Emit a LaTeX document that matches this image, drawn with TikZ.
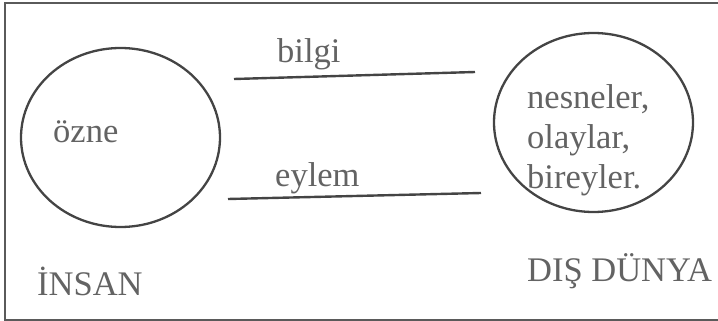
\documentclass[tikz,border=0pt]{standalone}
\usepackage{fontspec}
\setmainfont{Liberation Serif}
\usetikzlibrary{shapes.geometric}
\definecolor{txt}{HTML}{636363}
\definecolor{ln}{HTML}{444444}
\definecolor{frm}{HTML}{5A5A5A}
\begin{document}
\begin{tikzpicture}[x=1pt,y=-1pt,
  lbl/.style={anchor=base west,inner sep=0pt,text=txt,font=\fontsize{34.5}{40}\selectfont},
  oval/.style={draw=ln,line width=2.3pt,ellipse,inner sep=0pt,minimum width=199pt,minimum height=179pt},
  link/.style={draw=ln,line width=2.4pt}]
\useasboundingbox (0,0) rectangle (718,321);
\draw[frm,line width=1.6pt] (5,3) rectangle (724,320);
\node[oval] (insan) at (120.5,137.5) {};
\node[oval] (dunya) at (593.5,122.5) {};
\coordinate (b1) at (234,79);
\coordinate (b2) at (475,72);
\coordinate (e1) at (228,199);
\coordinate (e2) at (481,193);
\draw[link] (b1) -- (b2);
\draw[link] (e1) -- (e2);
\node[lbl] (bilgi) at (277,63) {bilgi};
\node[lbl] (eylem) at (275,186) {eylem};
\node[lbl] (ozne) at (53,142) {özne};
\node[lbl] (ins) at (37,295) {İNSAN};
\node[lbl] (dis) at (527,281) {DIŞ DÜNYA};
\node[lbl] (n1) at (527,108) {nesneler,};
\node[lbl] (n2) at (527,148) {olaylar,};
\node[lbl] (n3) at (527,188) {bireyler.};
\end{tikzpicture}
\end{document}
